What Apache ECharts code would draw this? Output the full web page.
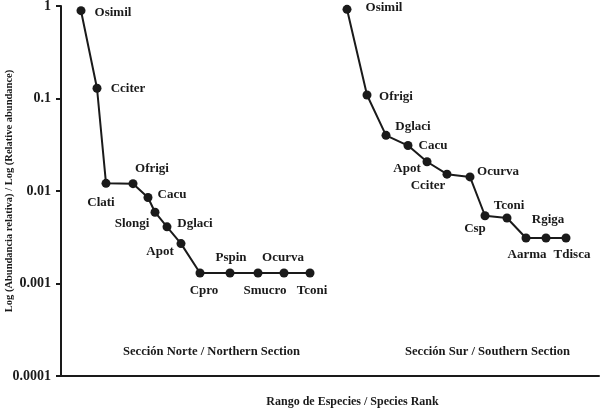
<!DOCTYPE html>
<html>
<head>
<meta charset="utf-8">
<script src="https://cdn.jsdelivr.net/npm/echarts@6/dist/echarts.min.js"></script>
<style>
  html, body { margin: 0; padding: 0; background: #fff; }
  #chart { width: 601px; height: 409px; }
</style>
</head>
<body>
<div id="chart"></div>
<script>
// rank position along the x axis (arbitrary units) and relative abundance
const northSpecies = ['Osimil', 'Cciter', 'Clati', 'Ofrigi', 'Cacu', 'Slongi', 'Dglaci', 'Apot', 'Cpro', 'Pspin', 'Smucro', 'Ocurva', 'Tconi']
const northRank = [2.0, 3.6, 4.5, 7.2, 8.7, 9.4, 10.6, 12.0, 13.9, 16.9, 19.7, 22.3, 24.9]
const northAbund = [0.89, 0.129, 0.0121, 0.0120, 0.0085, 0.0059, 0.0041, 0.0027, 0.0013, 0.0013, 0.0013, 0.0013, 0.0013]

const southSpecies = ['Osimil', 'Ofrigi', 'Dglaci', 'Cacu', 'Apot', 'Cciter', 'Ocurva', 'Csp', 'Tconi', 'Aarma', 'Rgiga', 'Tdisca']
const southRank = [28.6, 30.6, 32.5, 34.7, 36.6, 38.6, 40.9, 42.4, 44.6, 46.5, 48.5, 50.5]
const southAbund = [0.92, 0.109, 0.040, 0.031, 0.0207, 0.0152, 0.0142, 0.0054, 0.0051, 0.0031, 0.0031, 0.0031]

const yTickLabels = ['0.0001', '0.001', '0.01', '0.1', '1']

// label placement relative to each point (px)
const northLabelOffsets = [[32, 2], [31, 0], [-5, 19], [19, -15], [24, -3], [-23, 11], [28, -3], [-21, 8], [4, 18], [1, -15], [7, 18], [-1, -15], [2, 18]]
const southLabelOffsets = [[37, -2], [29, 2], [27, -9], [25, 0], [-20, 7], [-19, 11], [28, -5], [-10, 13], [2, -12], [1, 17], [2, -18], [6, 17]]

const serif = '"Liberation Serif", "DejaVu Serif", serif'
const ink = '#1a1a1a'

function buildData(names, ranks, values, offsets) {
  return names.map((name, i) => ({
    name,
    value: [ranks[i], values[i]],
    label: { offset: offsets[i] }
  }))
}

function lineSeries(data) {
  return {
    type: 'line',
    data,
    symbol: 'circle',
    symbolSize: 9,
    lineStyle: { color: ink, width: 2 },
    itemStyle: { color: ink },
    label: {
      show: true,
      position: 'inside',
      align: 'center',
      verticalAlign: 'middle',
      formatter: p => p.name,
      color: ink,
      fontFamily: serif,
      fontWeight: 'bold',
      fontSize: 13
    },
    emphasis: { disabled: true },
    animation: false
  }
}

const chart = echarts.init(document.getElementById('chart'))

chart.setOption({
  backgroundColor: '#fff',
  grid: { left: 61, right: 2, top: 6, bottom: 33, containLabel: false, outerBoundsMode: 'none' },
  xAxis: {
    type: 'value',
    min: 0,
    max: 53.8,
    name: 'Rango de Especies / Species Rank',
    nameLocation: 'middle',
    nameGap: 20,
    nameMoveOverlap: false,
    nameTextStyle: { color: ink, fontFamily: serif, fontWeight: 'bold', fontSize: 12, padding: [0, 0, 0, 45] },
    axisLine: { show: true, lineStyle: { color: ink, width: 2 } },
    axisTick: { show: false },
    axisLabel: { show: false },
    splitLine: { show: false }
  },
  yAxis: {
    type: 'log',
    logBase: 10,
    min: 0.0001,
    max: 1,
    name: 'Log (Abundancia relativa) / Log (Relative abundance)',
    nameLocation: 'middle',
    nameGap: 46,
    nameMoveOverlap: false,
    nameTextStyle: { color: ink, fontFamily: serif, fontWeight: 'bold', fontSize: 10.5 },
    axisLine: { show: true, lineStyle: { color: ink, width: 2 } },
    axisTick: { show: true, inside: false, length: 5, lineStyle: { color: ink, width: 2 } },
    axisLabel: {
      color: ink,
      fontFamily: serif,
      fontWeight: 'bold',
      fontSize: 14,
      margin: 10,
      formatter: v => {
        const i = Math.round(Math.log10(v)) + 4
        return yTickLabels[i] ?? ''
      }
    },
    splitLine: { show: false }
  },
  graphic: [
    {
      type: 'text',
      left: 123,
      top: 345,
      style: { text: 'Sección Norte / Northern Section', fill: ink, font: 'bold 12.6px ' + serif }
    },
    {
      type: 'text',
      left: 405,
      top: 345,
      style: { text: 'Sección Sur / Southern Section', fill: ink, font: 'bold 12.6px ' + serif }
    }
  ],
  series: [
    lineSeries(buildData(northSpecies, northRank, northAbund, northLabelOffsets)),
    lineSeries(buildData(southSpecies, southRank, southAbund, southLabelOffsets))
  ]
})
</script>
</body>
</html>
